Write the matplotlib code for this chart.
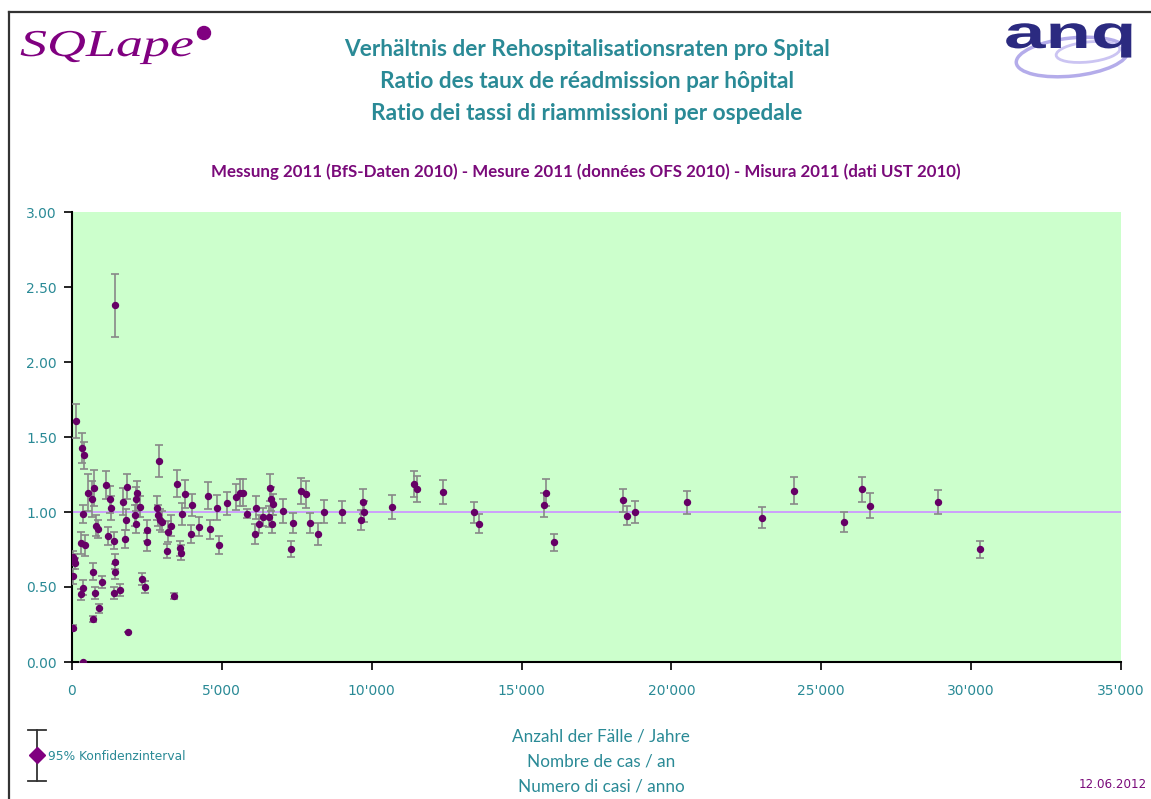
import matplotlib
matplotlib.use("Agg")
import matplotlib.pyplot as plt
from matplotlib.patches import Ellipse, Circle, PathPatch
from matplotlib.textpath import TextPath
from matplotlib.font_manager import FontProperties
from matplotlib.transforms import Affine2D
from matplotlib.ticker import FuncFormatter

# cases per year for each hospital
cases = [133, 345, 400, 545, 680, 735, 1123, 1257, 1290, 1713,
         1824, 1790, 2124, 2180, 2269, 2113, 2135, 2903, 2847, 2870,
         2936, 2992, 3493, 3770, 4015, 3659, 3293, 3214, 3159, 3604,
         3648, 3971, 4226, 4549, 4593, 4850, 4905, 5183, 5461, 5605,
         5694, 5828, 6140, 6106, 6240, 6362, 6562, 6617, 6640, 6696,
         6662, 7051, 7364, 7297, 7630, 7797, 7952, 8208, 8419, 8999,
         9632, 9699, 9733, 10677, 11422, 11522, 12390, 13413, 13591, 15749,
         15805, 16083, 18395, 18506, 18785, 20530, 23012, 24100, 25759, 26349,
         26626, 28906, 30297, 378, 300, 434, 800, 856, 1190, 1413,
         1757, 2492, 2492, 50, 67, 100, 44, 356, 300, 711,
         778, 990, 901, 711, 1435, 1435, 1402, 1613, 2325, 2447,
         3403, 44, 1870, 356, 1435]

# readmission ratio
ratio = [1.605, 1.43, 1.38, 1.13, 1.085, 1.16, 1.18, 1.085, 1.03, 1.07,
         1.17, 0.947, 1.09, 1.13, 1.035, 0.98, 0.92, 1.34, 1.027, 0.978,
         0.947, 0.935, 1.19, 1.12, 1.047, 0.987, 0.907, 0.87, 0.743, 0.758,
         0.73, 0.853, 0.902, 1.11, 0.885, 1.03, 0.78, 1.058, 1.10, 1.13,
         1.13, 0.99, 1.03, 0.855, 0.92, 0.969, 0.969, 1.162, 1.085, 1.053,
         0.918, 1.007, 0.924, 0.753, 1.14, 1.118, 0.924, 0.855, 1.002, 1.002,
         0.947, 1.069, 1.002, 1.033, 1.185, 1.151, 1.133, 0.998, 0.922, 1.047,
         1.127, 0.798, 1.078, 0.976, 1.002, 1.064, 0.962, 1.142, 0.936, 1.153,
         1.042, 1.069, 0.751, 0.99, 0.795, 0.78, 0.909, 0.887, 0.842, 0.81,
         0.822, 0.88, 0.80, 0.70, 0.685, 0.658, 0.573, 0.496, 0.451, 0.602,
         0.458, 0.531, 0.358, 0.287, 0.669, 0.602, 0.458, 0.48, 0.553, 0.498,
         0.438, 0.229, 0.198, 0.0, 2.38]

# half width of the 95% confidence interval
ci = [0.113, 0.10, 0.09, 0.125, 0.12, 0.12, 0.092, 0.09, 0.08, 0.09,
      0.086, 0.07, 0.08, 0.08, 0.07, 0.07, 0.06, 0.104, 0.08, 0.07,
      0.07, 0.07, 0.093, 0.091, 0.074, 0.072, 0.07, 0.07, 0.047, 0.05,
      0.05, 0.06, 0.065, 0.089, 0.063, 0.083, 0.057, 0.078, 0.087, 0.088,
      0.088, 0.03, 0.076, 0.067, 0.063, 0.06, 0.072, 0.09, 0.08, 0.07,
      0.06, 0.078, 0.067, 0.056, 0.088, 0.089, 0.067, 0.072, 0.078, 0.074,
      0.069, 0.085, 0.07, 0.078, 0.088, 0.087, 0.082, 0.071, 0.064, 0.077,
      0.09, 0.057, 0.077, 0.064, 0.072, 0.075, 0.07, 0.089, 0.067, 0.083,
      0.083, 0.08, 0.058, 0.06, 0.072, 0.07, 0.072, 0.06, 0.06, 0.056,
      0.06, 0.07, 0.06, 0.04, 0.035, 0.035, 0.05, 0.05, 0.035, 0.055,
      0.04, 0.04, 0.03, 0.02, 0.05, 0.05, 0.04, 0.04, 0.04, 0.04,
      0.02, 0.015, 0.0, 0.0, 0.21]

yticks = [0.0, 0.5, 1.0, 1.5, 2.0, 2.5, 3.0]
xticks = [0, 5000, 10000, 15000, 20000, 25000, 30000, 35000]

title_lines = ["Verhältnis der Rehospitalisationsraten pro Spital",
               "Ratio des taux de réadmission par hôpital",
               "Ratio dei tassi di riammissioni per ospedale"]
subtitle = "Messung 2011 (BfS-Daten 2010) - Mesure 2011 (données OFS 2010) - Misura 2011 (dati UST 2010)"
xlabel_lines = ["Anzahl der Fälle / Jahre", "Nombre de cas / an", "Numero di casi / anno"]

W, H = 1151, 799
teal = "#2a8a96"
purple = "#7a0a7a"

fig = plt.figure(figsize=(W / 100, H / 100), dpi=100)
fig.patch.set_facecolor("white")

# main plot
ax = fig.add_axes([72 / W, 1 - 662 / H, (1121 - 72) / W, (662 - 212) / H])
ax.set_facecolor("#ccffcc")
ax.axhline(1.0, color="#cc99ff", lw=1.3, zorder=1)
ax.errorbar(cases, ratio, yerr=ci, fmt="o", ms=4.3, mfc="#660066", mec="#660066",
            ecolor="#888888", elinewidth=1.2, capsize=3, capthick=1.2, zorder=3)
ax.set_xlim(0, 35000)
ax.set_ylim(0, 3)
ax.set_xticks(xticks)
ax.set_yticks(yticks)
ax.xaxis.set_major_formatter(FuncFormatter(lambda v, p: "0" if v == 0 else f"{int(v):,}".replace(",", "'")))
ax.yaxis.set_major_formatter(FuncFormatter(lambda v, p: f"{v:.2f}"))
ax.tick_params(axis="both", direction="out", length=6, width=1.2, colors="black",
               labelcolor=teal, labelsize=10)
ax.tick_params(axis="y", pad=5)
ax.tick_params(axis="x", pad=10)
for s in ["top", "right"]:
    ax.spines[s].set_visible(False)
for s in ["left", "bottom"]:
    ax.spines[s].set_linewidth(1.5)
for lab in ax.get_xticklabels() + ax.get_yticklabels():
    lab.set_family("DejaVu Sans")

# overlay in pixel coordinates for decorations
ov = fig.add_axes([0, 0, 1, 1], zorder=5)
ov.set_xlim(0, W)
ov.set_ylim(H, 0)
ov.axis("off")
ov.patch.set_alpha(0)

# frame
ov.plot([9, W], [12, 12], color="#333333", lw=1.6)
ov.plot([9, 9], [12, H], color="#333333", lw=1.6)

# titles
for i, t in enumerate(title_lines):
    ov.text(587, 49 + i * 32.5, t, ha="center", va="center", color=teal,
            fontsize=16.3, fontweight="bold", family="Lato")
ov.text(586, 172, subtitle, ha="center", va="center", color=purple,
        fontsize=12.2, fontweight="bold", family="Lato")
for i, t in enumerate(xlabel_lines):
    ov.text(601, 737 + i * 24.5, t, ha="center", va="center", color=teal,
            fontsize=12.3, family="Lato")

# SQLape logo
tp = TextPath((0, 0), "SQLape", size=38,
              prop=FontProperties(family="Liberation Serif", style="italic"))
tr = Affine2D().scale(1.42, -1.0).translate(20, 56)
ov.add_patch(PathPatch(tr.transform_path(tp), fc="#800080", ec="none"))
ov.add_patch(Circle((204, 33), 6.5, color="#800080"))

# anq logo
ov.add_patch(Ellipse((1072, 57), 112, 38, angle=-6, fill=False, ec="#b4acea", lw=2.5))
ov.add_patch(Ellipse((1088, 52), 64, 20, angle=-6, fill=False, ec="#cbc4f2", lw=2))
tp = TextPath((0, 0), "anq", size=46, prop=FontProperties(family="Liberation Sans", weight="bold"))
tr = Affine2D().scale(1.62, -1.0).translate(1004, 48)
ov.add_patch(PathPatch(tr.transform_path(tp), fc="#2b2a80", ec="none"))

# legend glyph
ov.plot([37, 37], [730, 781], color="#333333", lw=1.3)
ov.plot([28, 46], [730, 730], color="#333333", lw=1.3)
ov.plot([28, 46], [781, 781], color="#333333", lw=1.3)
ov.plot([37], [755], marker="D", ms=8, color="#800080")
ov.text(48, 756, "95% Konfidenzinterval", ha="left", va="center", color=teal,
        fontsize=8.8, family="DejaVu Sans")

# date
ov.text(1147, 785, "12.06.2012", ha="right", va="center", color=purple,
        fontsize=8.6, family="DejaVu Sans")

fig.savefig("out.png", dpi=100)
